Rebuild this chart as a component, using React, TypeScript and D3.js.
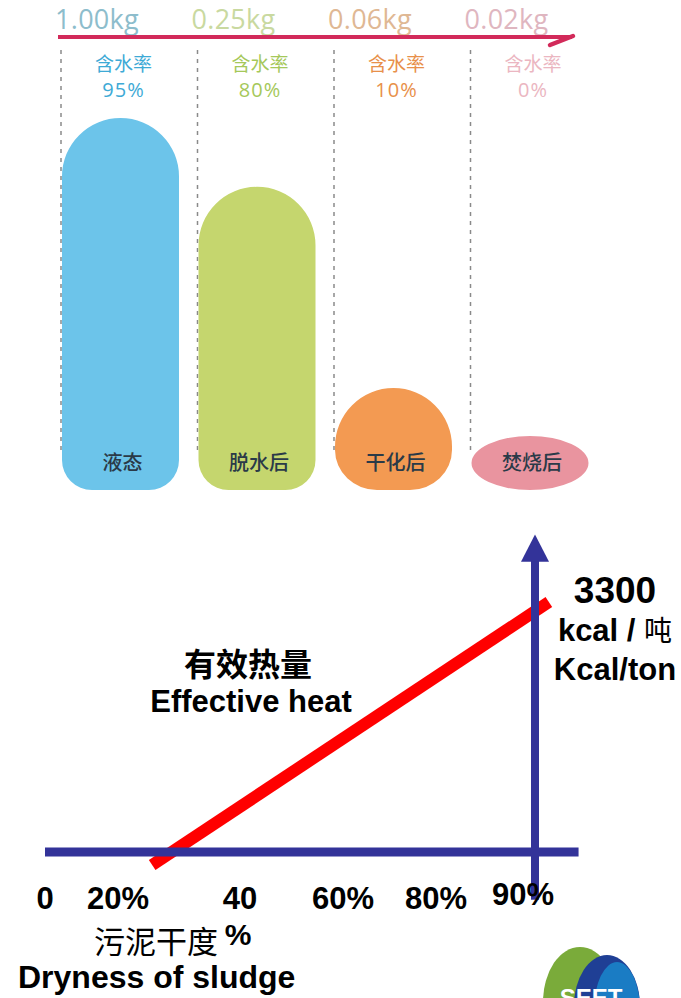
import React from "react";
import * as d3 from "d3";

// ---------- top panel data ----------
const categories = ["液态", "脱水后", "干化后", "焚烧后"];
const weights = ["1.00kg", "0.25kg", "0.06kg", "0.02kg"];
const moistureLabel = "含水率";
const moisture = ["95%", "80%", "10%", "0%"];
const barHeights = [100, 81.5, 27.4, 14.5]; // relative bar heights

// ---------- bottom panel data ----------
const dryTicks = [0, 20, 40, 60, 80, 90];
const dryTickLabels = ["0", "20%", "40", "60%", "80%", "90%"];
const heatLineDryness = [25.6, 91.4];
const heatLineValues = [-172, 3300];
const heatMax = 3300;

const barColors = ["#6cc4ea", "#c5d66e", "#f39a52", "#e9949f"];
const weightColors = ["#8dbdcc", "#c9d9a0", "#dfb894", "#dfb6c0"];
const moistColors = ["#3eaad6", "#a5c85a", "#e8904a", "#ebb6c1"];

function barPath(x: number, y: number, w: number, h: number) {
  const ellipse = h < w / 2;
  const rtx = w / 2;
  const rty = Math.min(w / 2, ellipse ? h / 2 : h * 0.6);
  const rbx = ellipse ? w / 2 : h < 150 ? 42 : 30;
  const rby = ellipse ? h / 2 : Math.min(h < 150 ? 40 : 30, h - rty);
  const b = y + h;
  return [
    `M${x},${y + rty}`,
    `A${rtx},${rty} 0 0 1 ${x + w},${y + rty}`,
    `L${x + w},${b - rby}`,
    `A${rbx},${rby} 0 0 1 ${x + w - rbx},${b}`,
    `L${x + rbx},${b}`,
    `A${rbx},${rby} 0 0 1 ${x},${b - rby}`,
    "Z",
  ].join(" ");
}

export default function App() {
  // top scales
  const xb = d3.scaleBand<string>().domain(categories).range([61, 61 + 136.5 * 4]).paddingInner(0);
  const yb = d3.scaleLinear().domain([0, 100]).range([490, 118]);
  const barW = 117;

  // bottom scales
  const x2 = d3.scaleLinear().domain(dryTicks).range([45, 118, 240, 343, 436, 535]);
  const y2 = d3.scaleLinear().domain([0, heatMax]).range([852, 602]);
  const x2ext = (v: number) => {
    const n = dryTicks.length;
    if (v <= dryTicks[n - 1]) return x2(v);
    const a = dryTicks[n - 2], b = dryTicks[n - 1];
    const slope = (x2(b) - x2(a)) / (b - a);
    return x2(b) + (v - b) * slope;
  };

  const heatLine = d3.line<number>()
    .x((d, i) => x2ext(heatLineDryness[i]))
    .y((d) => y2(d));

  const axisBlue = "#333399";
  const vx = x2(90);
  const axisY = y2(0);
  const tipY = y2(4190);
  const baseY = y2(3830);
  const vBottom = y2(-630);
  const hRight = x2ext(94.4);

  const sansB = "'Liberation Sans', Arial, sans-serif";
  const cjk = "'Noto Sans CJK SC', sans-serif";

  return (
    <svg width={681} height={998} style={{ position: "absolute", left: 0, top: 0, background: "#fff" }}>
      {/* ---------- top panel ---------- */}
      {categories.map((c, i) => (
        <text key={"w" + i} x={(xb(c) as number) - 6} y={29} fontFamily="'Open Sans', sans-serif" fontSize={27}
          letterSpacing={0.3} fill={weightColors[i]}>{weights[i]}</text>
      ))}
      <line x1={58} x2={572} y1={37} y2={37} stroke="#d22a5a" strokeWidth={4} />
      <path d="M550,45 L573,36" stroke="#d22a5a" strokeWidth={4.5} strokeLinecap="round" />
      {categories.map((c, i) => (
        <line key={"d" + i} x1={xb(c) as number} x2={xb(c) as number} y1={50} y2={455}
          stroke="#8a8a8a" strokeWidth={1.5} strokeDasharray="4,5" />
      ))}
      {categories.map((c, i) => {
        const cx = (xb(c) as number) + 1 + barW / 2 + 3;
        return (
          <g key={"m" + i} fill={moistColors[i]} textAnchor="middle">
            <text x={cx} y={71} fontFamily={cjk} fontSize={19}>{moistureLabel}</text>
            <text x={cx} y={97} fontFamily="'Open Sans', sans-serif" fontSize={20} letterSpacing={1}>{moisture[i]}</text>
          </g>
        );
      })}
      {categories.map((c, i) => {
        const x = (xb(c) as number) + 1;
        const y = yb(barHeights[i]);
        const h = yb(0) - y;
        return <path key={"b" + i} d={barPath(x, y, barW, h)} fill={barColors[i]} />;
      })}
      {categories.map((c, i) => (
        <text key={"l" + i} x={(xb(c) as number) + 1 + barW / 2 + 2} y={470} textAnchor="middle"
          fontFamily={cjk} fontWeight={500} fontSize={20} fill="#2a3a48">{c}</text>
      ))}

      {/* ---------- bottom panel ---------- */}
      <path d={heatLine(heatLineValues) as string} stroke="#ff0000" strokeWidth={12} fill="none" />
      <rect x={x2(0)} y={axisY - 4.5} width={hRight - x2(0)} height={9} fill={axisBlue} />
      <rect x={vx - 4} y={baseY - 1} width={8} height={vBottom - baseY + 1} fill={axisBlue} />
      <path d={`M${vx},${tipY} L${vx + 14},${baseY} L${vx - 14},${baseY} Z`} fill={axisBlue} />

      <text x={615} y={603} textAnchor="middle" fontFamily={sansB} fontWeight="bold" fontSize={37}>{heatMax}</text>
      <text x={615} y={641} textAnchor="middle" fontFamily={sansB} fontWeight="bold" fontSize={31}>
        kcal / <tspan fontFamily={cjk} fontWeight="normal" fontSize={28}>吨</tspan>
      </text>
      <text x={615} y={680} textAnchor="middle" fontFamily={sansB} fontWeight="bold" fontSize={31}>Kcal/ton</text>

      <text x={248} y={676} textAnchor="middle" fontFamily={cjk} fontWeight="bold" fontSize={32}>有效热量</text>
      <text x={251} y={712} textAnchor="middle" fontFamily={sansB} fontWeight="bold" fontSize={31}>Effective heat</text>

      {dryTicks.map((t, i) => (
        <text key={"t" + i} x={x2(t) + (i === dryTicks.length - 1 ? -12 : 0)} y={i === dryTicks.length - 1 ? 905 : 909}
          textAnchor="middle" fontFamily={sansB} fontWeight="bold" fontSize={31}>{dryTickLabels[i]}</text>
      ))}
      <text x={156} y={953} textAnchor="middle" fontFamily={cjk} fontSize={31}>污泥干度</text>
      <text x={238} y={945} textAnchor="middle" fontFamily={sansB} fontWeight="bold" fontSize={30}>%</text>
      <text x={18} y={988} fontFamily={sansB} fontWeight="bold" fontSize={32}>Dryness of sludge</text>

      {/* logo */}
      <g>
        <ellipse cx={580} cy={1002} rx={37} ry={55} fill="#7aab3a" />
        <ellipse cx={607} cy={1006} rx={33} ry={51} fill="#1f3f95" />
        <ellipse cx={617} cy={1010} rx={23} ry={48} fill="#1a7cc4" />
        <text x={591} y={1006} textAnchor="middle" fontFamily={sansB} fontWeight="bold" fontSize={24} fill="#fff">SEET</text>
      </g>
    </svg>
  );
}
